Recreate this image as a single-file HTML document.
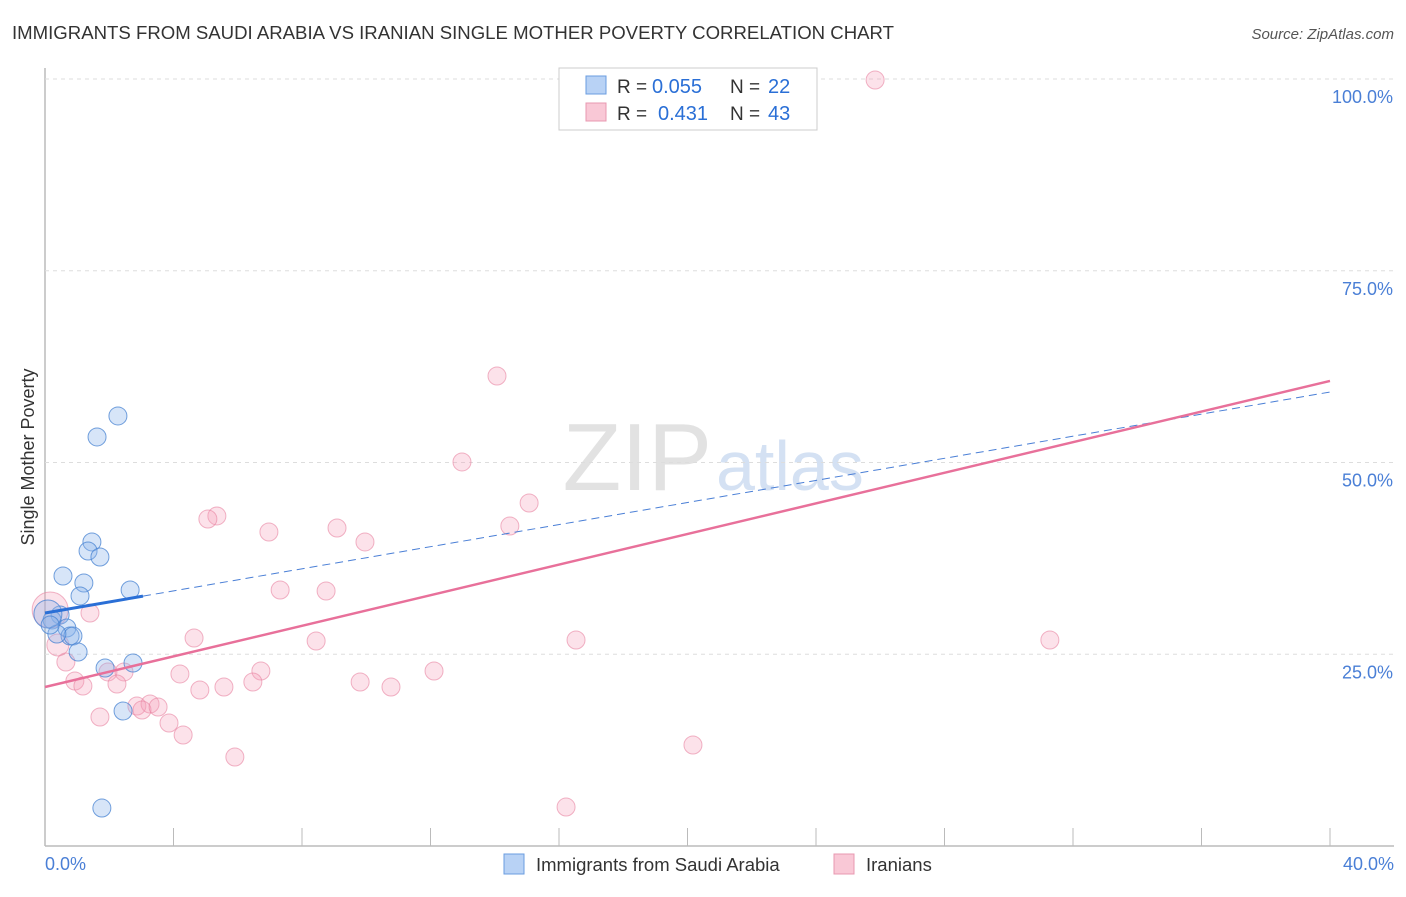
<!DOCTYPE html>
<html><head><meta charset="utf-8"><style>
body{margin:0;background:#fff;font-family:"Liberation Sans",sans-serif;}
svg text{font-family:"Liberation Sans",sans-serif;}
</style></head><body>
<svg id="c" width="1406" height="892"></svg>
<script>
const blueX=[2.27,1.62,1.46,1.34,1.71,0.56,1.21,1.09,2.65,0.47,0.22,0.68,0.78,0.87,0.37,1.03,1.87,2.74,2.43,1.77,0.09,0.16];
const blueY=[56.07,53.33,39.64,38.46,37.68,35.20,34.29,32.60,33.38,30.12,29.47,28.42,27.38,27.38,27.64,25.29,23.21,23.86,17.60,4.95,30.25,28.81];
const blueR=[9,9,9,9,9,9,9,9,9,9,9,9,9,9,9,9,9,9,9,9,14,9];
const pinkX=[25.84,14.07,12.98,15.07,14.47,5.35,5.07,6.97,9.09,9.96,7.32,8.75,1.40,16.53,31.28,4.64,8.44,0.65,1.96,2.46,4.20,6.72,12.11,0.93,1.18,2.24,4.82,5.57,6.47,9.81,10.77,1.71,2.86,3.27,3.02,3.52,3.86,4.30,5.91,20.17,16.22,0.16,0.40];
const pinkY=[99.87,61.28,50.07,44.72,41.72,43.03,42.63,40.94,41.46,39.64,33.38,33.25,30.38,26.86,26.86,27.12,26.73,23.99,22.69,22.69,22.43,22.82,22.82,21.51,20.86,21.12,20.34,20.73,21.38,21.38,20.73,16.82,18.25,18.51,17.73,18.12,16.04,14.47,11.60,13.17,5.08,30.77,26.21];
const pinkR=[9,9,9,9,9,9,9,9,9,9,9,9,9,9,9,9,9,9,9,9,9,9,9,9,9,9,9,9,9,9,9,9,9,9,9,9,9,9,9,9,9,18,11];
const blueLine=[30.38,59.19], pinkLine=[20.73,60.63], blueSolidEnd=3.05;
const yTicks=[25,50,75,100];
const xTickLabels=["0.0%","40.0%"];
const sx=v=>45+v/40*1285, sy=v=>846-v/100*767;
const NS="http://www.w3.org/2000/svg", svg=document.getElementById('c');
function mk(t,a,txt){const e=document.createElementNS(NS,t);for(const k in a)e.setAttribute(k,a[k]);if(txt!=null)e.textContent=txt;svg.appendChild(e);return e;}
let e;
e=mk('text',{x:12,y:39,'font-size':18.6,fill:'#333'},'IMMIGRANTS FROM SAUDI ARABIA VS IRANIAN SINGLE MOTHER POVERTY CORRELATION CHART');

e=mk('text',{x:1394,y:39,'font-size':15,fill:'#555','font-style':'italic','text-anchor':'end'},'Source: ZipAtlas.com');

e=mk('text',{x:712,y:490,'font-size':96,fill:'#e2e2e2','text-anchor':'end','font-family':'Liberation Serif'},'ZIP');

e=mk('text',{x:716,y:490,'font-size':70,fill:'#d4e1f3'},'atlas');

e=mk('line',{x1:45,y1:68,x2:45,y2:846,stroke:'#bbb','stroke-width':1.5});

e=mk('line',{x1:45,y1:846,x2:1394,y2:846,stroke:'#bbb','stroke-width':1.5});

for(let i=0;i<=10;i++){e=mk('line',{x1:45+i*128.5,y1:828,x2:45+i*128.5,y2:846,stroke:'#bbb'});
}
yTicks.forEach(t=>{e=mk('line',{x1:45,x2:1394,y1:sy(t),y2:sy(t),stroke:'#ddd','stroke-dasharray':'4,4'});

e=mk('text',{x:1393,y:sy(t)+24,'font-size':18,fill:'#4a7fd6','text-anchor':'end'},t.toFixed(1)+'%');
});
e=mk('text',{x:45,y:870,'font-size':18,fill:'#4a7fd6'},xTickLabels[0]);

e=mk('text',{x:1394,y:870,'font-size':18,fill:'#4a7fd6','text-anchor':'end'},xTickLabels[1]);

e=mk('text',{x:34,y:457,'font-size':18,fill:'#333','text-anchor':'middle',transform:'rotate(-90 34 457)'},'Single Mother Poverty');

pinkX.forEach((x,i)=>{e=mk('circle',{cx:sx(x),cy:sy(pinkY[i]),r:pinkR[i],fill:'rgba(244,160,185,0.3)',stroke:'rgba(232,130,160,0.6)','stroke-width':1});
});
blueX.forEach((x,i)=>{e=mk('circle',{cx:sx(x),cy:sy(blueY[i]),r:blueR[i],fill:'rgba(140,180,235,0.35)',stroke:'rgba(70,130,210,0.75)','stroke-width':1});
});
const bl=x=>blueLine[0]+(blueLine[1]-blueLine[0])*x/40, pl=x=>pinkLine[0]+(pinkLine[1]-pinkLine[0])*x/40;
e=mk('line',{x1:sx(blueSolidEnd),y1:sy(bl(blueSolidEnd)),x2:sx(40),y2:sy(bl(40)),stroke:'#4a7fd6','stroke-width':1,'stroke-dasharray':'8,5'});

e=mk('line',{x1:sx(0),y1:sy(bl(0)),x2:sx(blueSolidEnd),y2:sy(bl(blueSolidEnd)),stroke:'#2a6fd6','stroke-width':3});

e=mk('line',{x1:sx(0),y1:sy(pl(0)),x2:sx(40),y2:sy(pl(40)),stroke:'#e8709a','stroke-width':2.5});

e=mk('rect',{x:559,y:68,width:258,height:62,fill:'#fff',stroke:'#ccc'});

e=mk('rect',{x:586,y:76,width:20,height:18,fill:'#b8d2f5',stroke:'#6a9ce0'});

e=mk('rect',{x:586,y:103,width:20,height:18,fill:'#f9c8d6',stroke:'#e898b0'});

[['0.055','22',93,652],['0.431','43',120,658]].forEach(r=>{
e=mk('text',{x:617,y:r[2],'font-size':19,fill:'#333'},'R =');

e=mk('text',{x:r[3],y:r[2],'font-size':20,fill:'#2a6fd6'},r[0]);

e=mk('text',{x:730,y:r[2],'font-size':19,fill:'#333'},'N =');

e=mk('text',{x:768,y:r[2],'font-size':20,fill:'#2a6fd6'},r[1]);
});
e=mk('rect',{x:504,y:854,width:20,height:20,fill:'#b8d2f5',stroke:'#6a9ce0'});

e=mk('text',{x:536,y:871,'font-size':18.5,fill:'#333'},'Immigrants from Saudi Arabia');

e=mk('rect',{x:834,y:854,width:20,height:20,fill:'#f9c8d6',stroke:'#e898b0'});

e=mk('text',{x:866,y:871,'font-size':18.5,fill:'#333'},'Iranians');

</script>
</body></html>
